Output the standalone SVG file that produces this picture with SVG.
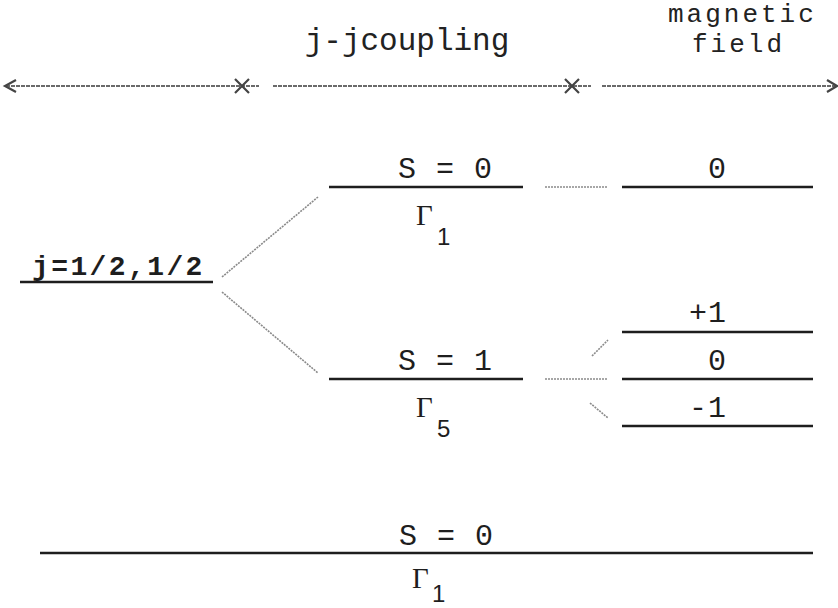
<svg xmlns="http://www.w3.org/2000/svg" width="838" height="608" viewBox="0 0 838 608">
<style>
.lvl{stroke:#1e1e1e;stroke-width:2.6;fill:none}
.mono{font-family:"Liberation Mono","DejaVu Sans Mono",monospace;fill:#1e1e1e}
.lab{font-size:30px;letter-spacing:1px}
.head{font-size:31px;font-family:"Liberation Mono","DejaVu Sans Mono",monospace;fill:#222}
.hs{font-size:26px;letter-spacing:3px}
.g{font-family:"Liberation Serif",serif;font-size:29px;fill:#1e1e1e}
.sub{font-family:"Liberation Sans",sans-serif;font-size:24px;fill:#1e1e1e}
.conn{stroke:#8a8a8a;stroke-width:1.6;fill:none;stroke-dasharray:2,1}
.axis{stroke:#6a6a6a;stroke-width:1.8;fill:none;stroke-dasharray:4,1}
.mark{stroke:#444;stroke-width:2.2;fill:none}
</style>
<g id="headers">
<text class="head" x="407" y="50" text-anchor="middle">j-jcoupling</text>
<text class="head hs" x="668" y="22">magnetic</text>
<text class="head hs" x="692" y="52">field</text>
</g>
<g id="connectors">
<line class="axis" x1="6" y1="86" x2="259" y2="86"/>
<line class="axis" x1="273" y1="86" x2="591" y2="86"/>
<line class="axis" x1="602" y1="86" x2="836" y2="86"/>
<path class="mark" d="M16,80 L5,86 L16,92"/>
<path class="mark" d="M827,80 L837,86 L827,92"/>
<path class="mark" d="M235,79 L249,93 M249,79 L235,93"/>
<path class="mark" d="M565,79 L579,93 M579,79 L565,93"/>
<line class="conn" x1="222" y1="277" x2="318" y2="197"/>
<line class="conn" x1="222" y1="292" x2="318" y2="373"/>
<line class="conn" x1="545" y1="187" x2="608" y2="187"/>
<line class="conn" x1="545" y1="379" x2="608" y2="379"/>
<line class="conn" x1="592" y1="356" x2="608" y2="340" stroke-width="1"/>
<line class="conn" x1="590" y1="403" x2="608" y2="418"/>
</g>
<g id="j-level">
<line class="lvl" x1="20" y1="282" x2="213" y2="282"/>
<text class="mono" x="32" y="275" font-size="28" letter-spacing="2.4" font-weight="bold">j=1/2,1/2</text>
</g>
<g id="s0-upper">
<line class="lvl" x1="329" y1="187" x2="523" y2="187"/>
<text class="mono lab" x="398" y="178">S = 0</text>
<text class="g" x="416" y="225">Γ</text><text class="sub" x="437" y="245">1</text>
</g>
<g id="s1">
<line class="lvl" x1="329" y1="379" x2="523" y2="379"/>
<text class="mono lab" x="398" y="370">S = 1</text>
<text class="g" x="416" y="417">Γ</text><text class="sub" x="437" y="437">5</text>
</g>
<g id="m-top0">
<line class="lvl" x1="622" y1="187" x2="813" y2="187"/>
<text class="mono lab" x="708" y="178">0</text>
</g>
<g id="m-plus1">
<line class="lvl" x1="622" y1="332" x2="813" y2="332"/>
<text class="mono lab" x="689" y="322">+1</text>
</g>
<g id="m-0">
<line class="lvl" x1="622" y1="379" x2="813" y2="379"/>
<text class="mono lab" x="708" y="370">0</text>
</g>
<g id="m-minus1">
<line class="lvl" x1="622" y1="426" x2="813" y2="426"/>
<text class="mono lab" x="689" y="417">-1</text>
</g>
<g id="s0-ground">
<line class="lvl" x1="40" y1="553" x2="813" y2="553"/>
<text class="mono lab" x="399" y="545">S = 0</text>
<text class="g" x="412" y="588">Γ</text><text class="sub" x="432" y="602" font-size="22">1</text>
</g>
</svg>
